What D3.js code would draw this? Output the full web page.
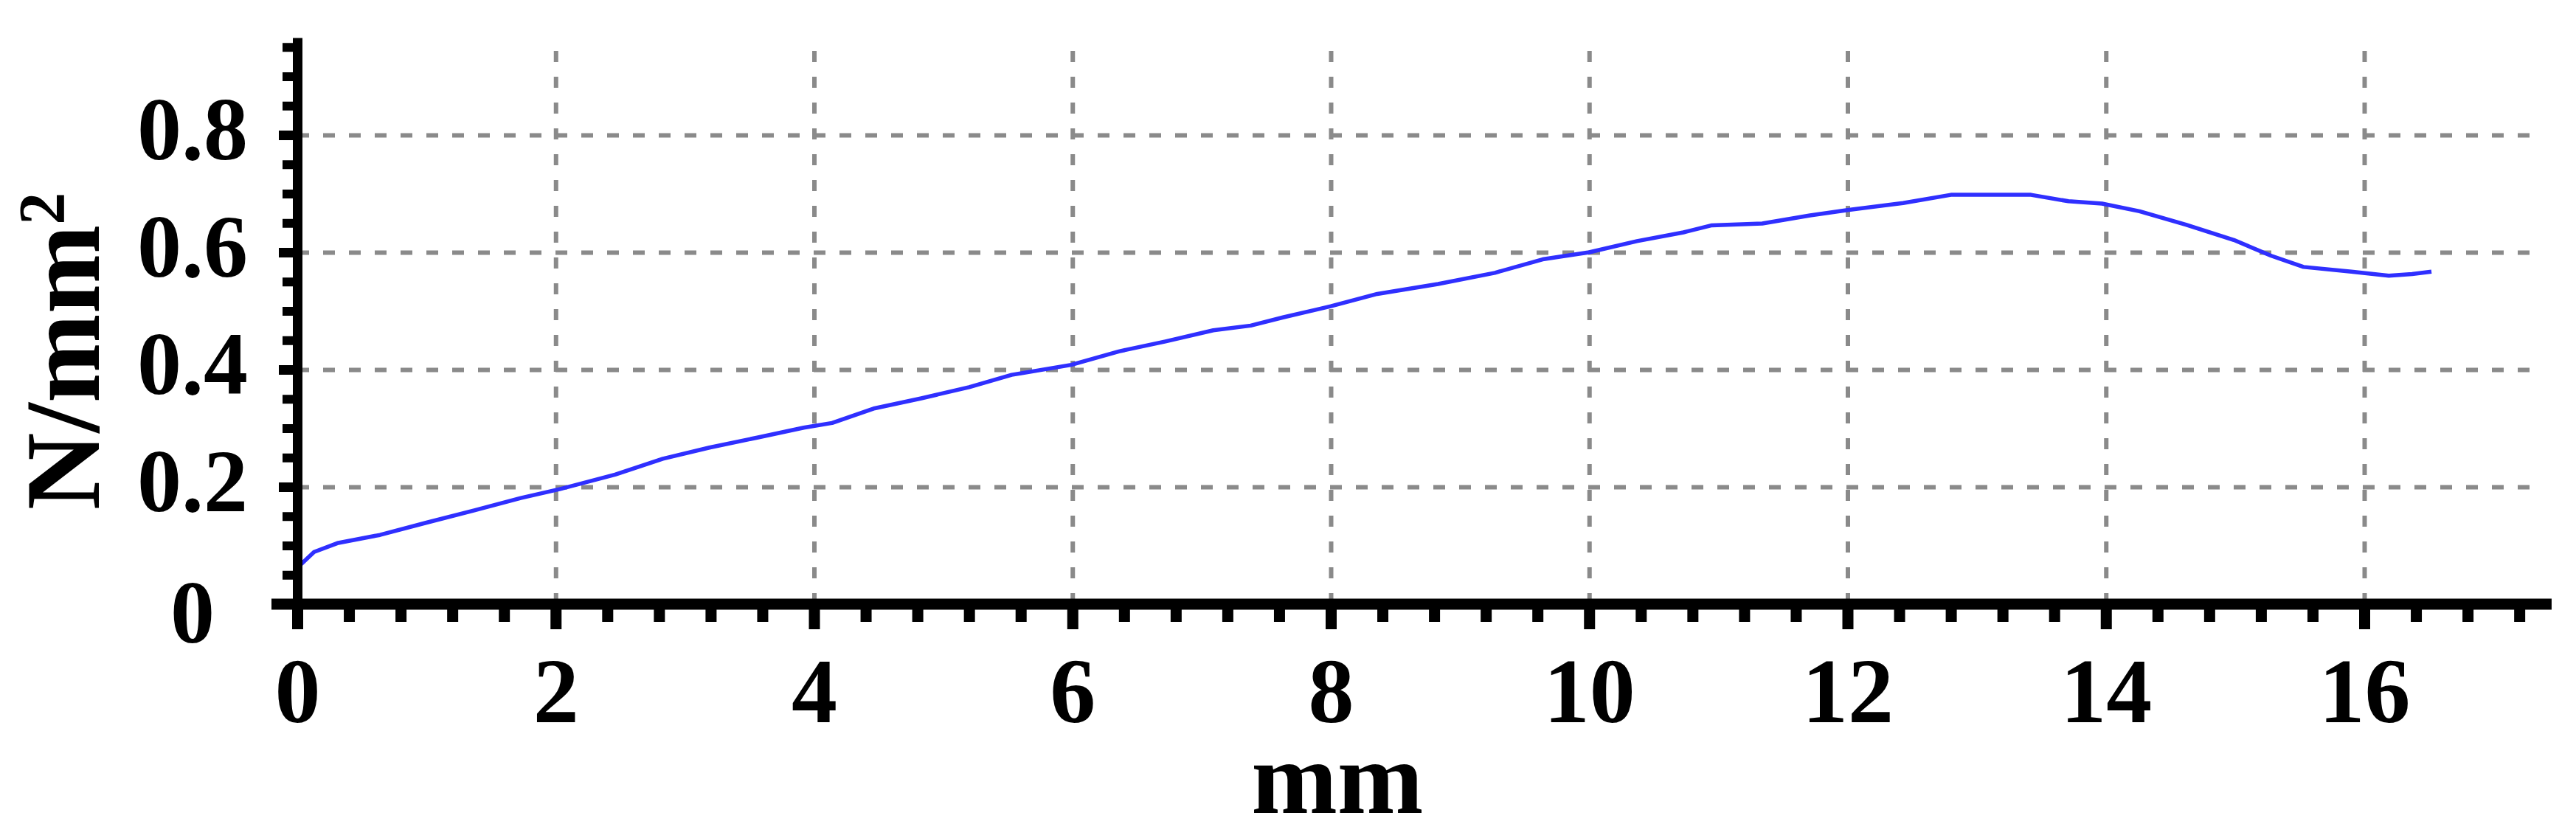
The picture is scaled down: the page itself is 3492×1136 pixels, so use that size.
<!DOCTYPE html>
<html>
<head>
<meta charset="utf-8">
<script src="https://cdn.jsdelivr.net/npm/d3@7"></script>
<style>
  html, body { margin: 0; padding: 0; background: #fff; }
  svg { display: block; }
  text { font-family: "Liberation Serif", "Times New Roman", serif; font-weight: bold; fill: #000; }
</style>
</head>
<body>
<svg id="chart"></svg>
<script>
// Spannung-Weg-Kurve (N/mm² über mm)

const width = 3492, height = 1136;

const displacementMm = [0, 0.13, 0.31, 0.64, 1.0, 1.37, 1.73, 2.03, 2.46, 2.83, 3.19, 3.56, 3.92, 4.14,
  4.47, 4.83, 5.2, 5.53, 5.99, 6.36, 6.72, 7.09, 7.38, 7.63, 8.0, 8.36, 8.83, 9.27, 9.64, 10.0,
  10.37, 10.73, 10.95, 11.34, 11.71, 12.0, 12.43, 12.8, 13.42, 13.71, 13.97, 14.26, 14.62, 14.99,
  15.28, 15.53, 15.9, 16.19, 16.37, 16.52];
const stress = [0.062, 0.089, 0.104, 0.118, 0.139, 0.160, 0.181, 0.196, 0.221, 0.248, 0.267, 0.284, 0.301, 0.309,
  0.334, 0.351, 0.370, 0.391, 0.408, 0.431, 0.448, 0.467, 0.475, 0.489, 0.508, 0.529, 0.546, 0.565, 0.588, 0.600,
  0.619, 0.634, 0.646, 0.649, 0.663, 0.672, 0.684, 0.698, 0.698, 0.687, 0.683, 0.670, 0.647, 0.621,
  0.594, 0.575, 0.567, 0.560, 0.563, 0.567];

const xTicks = [0, 2, 4, 6, 8, 10, 12, 14, 16];
const yTicks = [0, 0.2, 0.4, 0.6, 0.8];
const xLabel = "mm";

const svg = d3.select("#chart")
  .attr("width", width)
  .attr("height", height)
  .attr("viewBox", `0 0 ${width} ${height}`);

svg.append("rect").attr("width", width).attr("height", height).attr("fill", "#fff");

const x = d3.scaleLinear().domain([0, 16]).range([403, 3205]);
const y = d3.scaleLinear().domain([0, 0.8]).range([819, 183]);

const xMax = 17.45, yMax = 0.966;
const xMinor = d3.range(1, 44).map(i => +(i * 0.4).toFixed(1)).filter(v => Math.abs(v / 2 - Math.round(v / 2)) > 1e-6);
const yMinor = d3.range(1, 20).map(i => +(i * 0.05).toFixed(2)).filter(v => Math.abs(v / 0.2 - Math.round(v / 0.2)) > 1e-6);

// Gitter
const gridY = svg.append("g")
  .attr("transform", `translate(${x(0)},0)`)
  .call(d3.axisLeft(y).tickValues(yTicks.slice(1)).tickSize(-(x(17.37) - x(0))).tickFormat(""));
gridY.select(".domain").remove();
gridY.selectAll("line").attr("stroke", "#8a8a8a").attr("stroke-width", 6).attr("stroke-dasharray", "16 19");

const gridX = svg.append("g")
  .attr("transform", `translate(0,${y(0)})`)
  .call(d3.axisBottom(x).tickValues(xTicks.slice(1)).tickSize(-(y(0) - 55)).tickFormat(""));
gridX.select(".domain").remove();
gridX.selectAll("line").attr("stroke", "#8a8a8a").attr("stroke-width", 6).attr("stroke-dasharray", "15 20");

// Kurve
const line = d3.line()
  .x((d, i) => x(displacementMm[i]))
  .y(d => y(d));

svg.append("path")
  .datum(stress)
  .attr("fill", "none")
  .attr("stroke", "#2f2fff")
  .attr("stroke-width", 5.5)
  .attr("stroke-linejoin", "round")
  .attr("d", line);

// Nebenstriche
const xAxisScale = x.copy().domain([0, xMax]).range([x(0), x(xMax)]);
const yAxisScale = y.copy().domain([0, yMax]).range([y(0), y(yMax)]);

const xMinorG = svg.append("g")
  .attr("transform", `translate(0,${y(0)})`)
  .call(d3.axisBottom(xAxisScale).tickValues(xMinor).tickSize(24).tickFormat(""));
xMinorG.select(".domain").remove();
xMinorG.selectAll("line").attr("stroke", "#000").attr("stroke-width", 15);

const yMinorG = svg.append("g")
  .attr("transform", `translate(${x(0)},0)`)
  .call(d3.axisLeft(yAxisScale).tickValues(yMinor).tickSize(20).tickFormat(""));
yMinorG.select(".domain").remove();
yMinorG.selectAll("line").attr("stroke", "#000").attr("stroke-width", 12);

// Achsen
const xAxis = svg.append("g")
  .attr("transform", `translate(0,${y(0)})`)
  .call(d3.axisBottom(xAxisScale).tickValues(xTicks).tickSize(34).tickSizeOuter(0).tickFormat(d3.format("d")));
xAxis.select(".domain").attr("stroke", "#000").attr("stroke-width", 15).attr("d", `M${x(0) - 35},0H${x(xMax)}`);
xAxis.selectAll(".tick line").attr("stroke", "#000").attr("stroke-width", 15);
xAxis.selectAll(".tick text")
  .attr("y", 160).attr("dy", 0)
  .style("font-size", "124px");

const yAxis = svg.append("g")
  .attr("transform", `translate(${x(0)},0)`)
  .call(d3.axisLeft(yAxisScale).tickValues(yTicks).tickSize(25).tickSizeOuter(0)
    .tickFormat(d => d === 0 ? "0" : d3.format(".1f")(d)));
yAxis.select(".domain").attr("stroke", "#000").attr("stroke-width", 13);
yAxis.selectAll(".tick line").attr("stroke", "#000").attr("stroke-width", 13);
yAxis.selectAll(".tick text")
  .attr("x", 261 - x(0))
  .attr("dy", 0)
  .attr("y", d => d === 0 ? 51 : 32)
  .attr("text-anchor", "middle")
  .style("font-size", "120px");

// Achsentitel
svg.append("text")
  .attr("x", x(8.05))
  .attr("y", 1102)
  .attr("text-anchor", "middle")
  .style("font-size", "140px")
  .text(xLabel);

const yTitle = svg.append("text")
  .attr("transform", "translate(134,476) rotate(-90)")
  .attr("text-anchor", "middle")
  .style("font-size", "145px");
yTitle.append("tspan").text("N/mm");
yTitle.append("tspan").attr("dy", -48).style("font-size", "88px").text("2");
</script>
</body>
</html>
